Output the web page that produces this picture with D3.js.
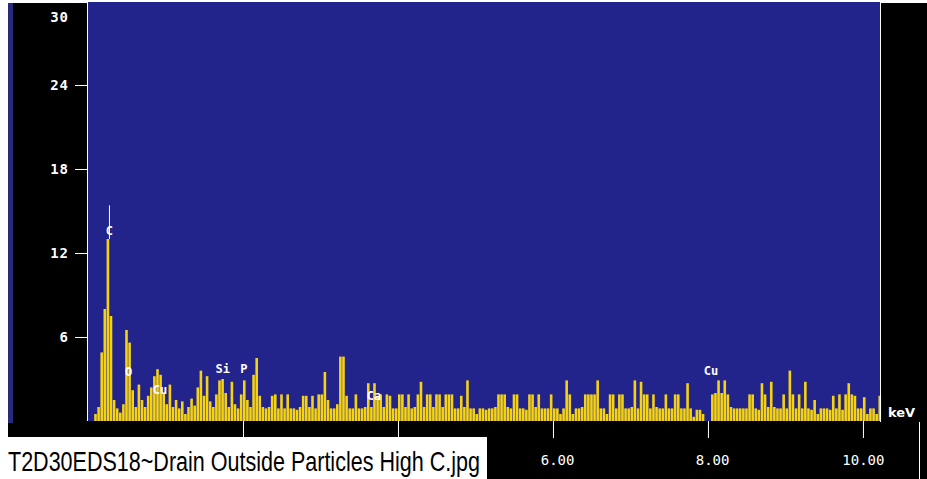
<!DOCTYPE html>
<html><head><meta charset="utf-8">
<script src="https://cdn.jsdelivr.net/npm/d3@7/dist/d3.min.js"></script>
<style>html,body{margin:0;padding:0;background:#fff;overflow:hidden}</style>
</head><body>
<svg id="chart" width="927" height="479"></svg>
<script>
// ---- data ----
const channelWidthKeV = 0.04;
const counts = [
 0,0,0.5,1.0,4.9,8.0,13.0,7.5,1.5,0.9, 0.6,1.2,6.5,5.6,2.2,1.0,2.6,1.5,1.0,1.8,
 2.4,3.2,3.7,3.3,2.0,1.2,2.6,1.0,1.5,0.9, 1.4,0.5,1.0,1.6,1.1,2.4,3.6,1.8,3.2,1.4,
 1.0,1.9,2.9,3.0,2.0,1.0,2.8,1.2,0.9,1.9, 2.9,1.5,1.0,3.3,4.5,1.8,1.0,0.9,1.0,1.8,
 1.9,0.9,1.9,0.9,1.9,0.9,0.9,0.8,1.0,1.8, 1.8,1.0,1.8,0.9,1.9,1.9,3.5,1.5,0.9,0.9,
 1.2,4.6,4.6,1.8,0.9,0.9,1.9,0.9,0.9,1.0, 2.7,1.0,2.7,1.8,1.9,1.0,1.9,1.8,0.9,0.9,
 1.9,1.9,1.0,1.9,0.9,1.0,1.9,2.8,1.0,1.9, 1.9,1.0,1.9,1.9,1.0,1.9,1.9,1.9,0.9,0.9,
 1.8,1.0,2.9,0.9,0.9,0.5,0.9,0.9,0.8,0.9, 0.9,1.0,1.9,1.9,1.9,1.0,0.9,1.9,1.9,0.9,
 0.9,0.8,1.9,1.9,1.0,1.9,0.9,0.9,0.9,1.9, 0.9,0.9,0.5,0.9,2.9,1.9,0.5,0.9,0.9,1.0,
 1.9,1.9,1.9,1.9,2.9,0.9,0.9,0.5,1.9,1.9, 0.9,1.9,1.9,0.9,0.9,1.0,2.9,0.9,2.8,1.9,
 1.9,0.9,1.9,1.0,0.9,0.9,1.9,0.9,0.9,1.9, 1.9,0.9,0.9,2.7,0.9,0.3,0.8,0.8,0.5,0,
 0,1.9,2.0,2.9,2.0,2.9,1.9,1.0,0.9,0.9, 0.9,0.9,0.9,1.9,1.9,0.9,0.8,2.7,1.9,1.0,
 2.8,1.0,0.9,0.9,1.9,0.9,3.6,1.9,0.9,1.9, 0.9,2.8,0.9,0.8,1.5,0.5,0.9,0.9,0.9,0.8,
 1.8,0.9,1.9,0.8,1.9,2.7,1.9,1.8,0.9,0.9, 1.7,0.5,0.9,0.9,0.5,1.8
];
const peakLabels = ["C","O","Cu","Si","P","Ca","Cu"];
const peakEnergies = [0.277,0.525,0.93,1.74,2.01,3.69,8.04];
const peakLabelY = [13.6,3.5,2.2,3.7,3.7,1.8,3.6];
const markerEnergies = [0.277];
const markerTop = [15.4];
const yTicks = [6,12,18,24,30];
const xTicks = [2,4,6,8,10];
const xTickLabelsShown = [6,8,10];   // 2.00 and 4.00 are covered by the caption box
const xUnit = "keV";
const caption = "T2D30EDS18~Drain Outside Particles High C.jpg";

// ---- layout ----
const svg = d3.select("#chart");
const plot = {left:88, right:880, top:2, bottom:421};
const x = d3.scaleLinear().domain([0, 10.22]).range([plot.left, plot.right]);
const y = d3.scaleLinear().domain([0, 30]).range([plot.bottom, 1]);

const BLUE = "#23238c", YELLOW = "#f4d214";

svg.append("rect").attr("x",0).attr("y",0).attr("width",927).attr("height",479).attr("fill","#fff");
svg.append("rect").attr("x",8).attr("y",3).attr("width",919).attr("height",435).attr("fill","#000");
svg.append("rect").attr("x",487).attr("y",437).attr("width",440).attr("height",42).attr("fill","#000");
svg.append("rect").attr("x",8).attr("y",3).attr("width",5).attr("height",420).attr("fill","#2a2a7c");
svg.append("rect").attr("x",plot.left).attr("y",plot.top).attr("width",plot.right-plot.left)
  .attr("height",plot.bottom-plot.top).attr("fill",BLUE);

// spectrum bars
svg.append("g").selectAll("rect").data(counts).join("rect")
  .attr("x",(d,i)=>x(i*channelWidthKeV))
  .attr("width",(d,i)=>Math.max(0, x((i+1)*channelWidthKeV)-x(i*channelWidthKeV)-0.5))
  .attr("y",d=>y(d)).attr("height",d=>y(0)-y(d))
  .attr("fill",YELLOW);

// element marker lines
svg.append("g").selectAll("line").data(markerEnergies).join("line")
  .attr("x1",d=>x(d)).attr("x2",d=>x(d))
  .attr("y1",(d,i)=>y(markerTop[i])).attr("y2",(d,i)=>y(peakLabelY[0]-0.6))
  .attr("stroke","#fff").attr("stroke-width",1);

// peak labels
svg.append("g").selectAll("text").data(peakLabels).join("text")
  .attr("x",(d,i)=>x(peakEnergies[i])).attr("y",(d,i)=>y(peakLabelY[i]))
  .attr("dy","0.35em").attr("text-anchor","middle")
  .attr("fill","#fff").attr("font-family","DejaVu Sans Mono").attr("font-weight","bold")
  .attr("font-size",12).text(d=>d);

// frame lines
svg.append("line").attr("x1",plot.left-0.5).attr("x2",plot.left-0.5).attr("y1",plot.top).attr("y2",plot.bottom)
  .attr("stroke","#fff");
svg.append("line").attr("x1",plot.right+0.5).attr("x2",plot.right+0.5).attr("y1",plot.top).attr("y2",plot.bottom+1)
  .attr("stroke","#fff");
svg.append("line").attr("x1",919.5).attr("x2",919.5).attr("y1",422).attr("y2",479).attr("stroke","#fff");

// y axis
const yAxis = svg.append("g").attr("transform",`translate(${plot.left-1},0)`)
  .call(d3.axisLeft(y).tickValues(yTicks).tickSize(12).tickPadding(6).tickFormat(d3.format("d")));
yAxis.select(".domain").remove();
yAxis.selectAll(".tick line").attr("stroke","#fff");
yAxis.selectAll(".tick text").attr("fill","#fff").attr("font-family","DejaVu Sans Mono")
  .attr("font-weight","bold").attr("font-size",14).attr("letter-spacing",1);
yAxis.selectAll(".tick").filter(d=>d===30).each(function(){
  d3.select(this).select("line").remove();
  d3.select(this).select("text").attr("dy","1.45em");
});

// x axis
const fmt = d3.format(".2f");
const xAxis = svg.append("g").attr("transform",`translate(0,${plot.bottom})`)
  .call(d3.axisBottom(x).tickValues(xTicks).tickSize(17).tickPadding(17)
    .tickFormat(d => xTickLabelsShown.includes(d) ? fmt(d) : ""));
xAxis.select(".domain").remove();
xAxis.selectAll(".tick line").attr("stroke","#fff");
xAxis.selectAll(".tick text").filter(d=>!xTickLabelsShown.includes(d)).remove();
xAxis.selectAll(".tick text").attr("fill","#fff").attr("font-family","DejaVu Sans Mono")
  .attr("font-size",14).attr("text-anchor","end").attr("dx",21);

svg.append("text").attr("x",888).attr("y",417).attr("fill","#fff")
  .attr("font-family","DejaVu Sans").attr("font-weight","bold").attr("font-size",13).text(xUnit);

// caption box
svg.append("rect").attr("x",0).attr("y",437).attr("width",487).attr("height",42).attr("fill","#fff");
const cap = svg.append("text").attr("x",0).attr("y",0).attr("fill","#000")
  .attr("font-family","Liberation Sans, Arial, sans-serif").attr("font-size",22).text(caption);
const natural = cap.node().getComputedTextLength();
cap.attr("transform",`translate(8,471) scale(${472/natural},1.25)`);
</script>
</body></html>
